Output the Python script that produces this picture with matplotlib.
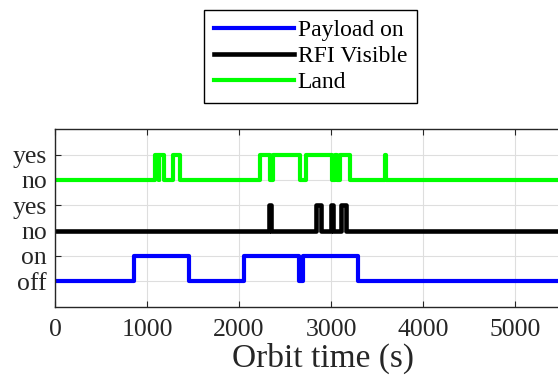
import numpy as np
import matplotlib.pyplot as plt

plt.rcParams['font.family'] = ['Liberation Serif', 'DejaVu Serif']

# orbit time span (s); the original axes run past the right edge of the crop
t_end = 5815

# on-intervals (start, end) in seconds
payload_on = [(855, 1455), (2055, 2652), (2698, 3295)]
rfi_on = [(2328, 2350), (2832, 2888), (2995, 3022), (3112, 3158)]
land_on = [(1090, 1125), (1135, 1180), (1280, 1360), (2230, 2335), (2365, 2662),
           (2728, 3010), (3045, 3068), (3098, 3210), (3584, 3598)]

ytick_pos = [0, 1, 2, 3, 4, 5]
ytick_labels = ['off', 'on', 'no', 'yes', 'no', 'yes']


def step_series(intervals, low, high):
    t = [0]
    y = [low]
    for a, b in intervals:
        t += [a, a, b, b]
        y += [low, high, high, low]
    t.append(t_end)
    y.append(low)
    return np.array(t), np.array(y)


fig = plt.figure(figsize=(5.58, 3.79), dpi=100)
ax = fig.add_axes([0.0986, 0.191, 0.9588, 0.468])

tb, yb = step_series(payload_on, 0, 1)
tk, yk = step_series(rfi_on, 2, 3)
tg, yg = step_series(land_on, 4, 5)

l1, = ax.plot(tb, yb, color='#0000ff', lw=3, label='Payload on')
l2, = ax.plot(tk, yk, color='black', lw=3.3, label='RFI Visible')
l3, = ax.plot(tg, yg, color='#00ff00', lw=3, label='Land')

ax.set_xlim(0, t_end)
ax.set_ylim(-1, 6)
ax.set_xticks([0, 1000, 2000, 3000, 4000, 5000])
ax.set_yticks(ytick_pos)
ax.set_yticklabels(ytick_labels)
ax.tick_params(direction='in', top=True, right=True, labelsize=18.5,
               length=4, width=0.8, colors='#262626', labelcolor='#262626')
ax.tick_params(axis='x', pad=9)
ax.tick_params(axis='y', pad=6)
ax.grid(True, color='#dedede', lw=0.8)
ax.set_axisbelow(True)
for s in ax.spines.values():
    s.set_linewidth(1.0)
    s.set_color('#262626')
ax.set_xlabel('Orbit time (s)', fontsize=24, color='#262626', labelpad=1.5)

fig.legend(handles=[l1, l2, l3], loc='upper center',
           bbox_to_anchor=(310.5 / 558, 1 - 10 / 379), fontsize=17,
           handlelength=3.4, handletextpad=0.15, labelspacing=0.2,
           borderpad=0.4, borderaxespad=0, frameon=True, fancybox=False,
           framealpha=1, edgecolor='black')

fig.savefig('out.png', dpi=100)
